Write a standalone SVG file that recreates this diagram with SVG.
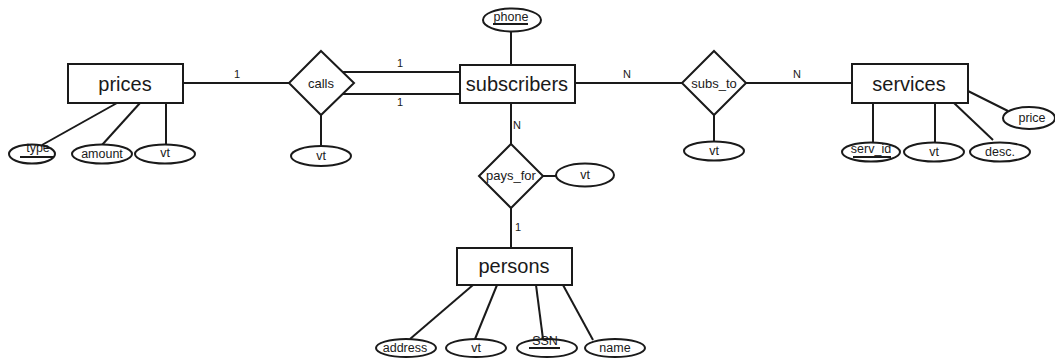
<svg xmlns="http://www.w3.org/2000/svg" width="1055" height="360" viewBox="0 0 1055 360">
<style>
.s{fill:#fff;stroke:#1a1a1a;stroke-width:2}
.l{stroke:#1a1a1a;stroke-width:2;fill:none}
.u{stroke:#1a1a1a;stroke-width:2}
.e{font-family:"Liberation Sans",Arial,sans-serif;font-size:20px;fill:#1a1a1a;text-anchor:middle}
.a{font-family:"Liberation Sans",Arial,sans-serif;font-size:12.5px;fill:#1a1a1a;text-anchor:middle}
.r{font-family:"Liberation Sans",Arial,sans-serif;font-size:13px;fill:#1a1a1a;text-anchor:middle}
.c{font-family:"Liberation Sans",Arial,sans-serif;font-size:11px;fill:#1a1a1a;text-anchor:middle}
</style>
<rect width="1055" height="360" fill="#fff"/>
<g id="connectors">
<line class="l" x1="183" y1="83" x2="289" y2="83"/>
<line class="l" x1="343" y1="72" x2="460" y2="72"/>
<line class="l" x1="343" y1="94" x2="460" y2="94"/>
<line class="l" x1="575" y1="83" x2="682" y2="83"/>
<line class="l" x1="746" y1="83" x2="852" y2="83"/>
<line class="l" x1="511" y1="103" x2="511" y2="144"/>
<line class="l" x1="511" y1="208" x2="511" y2="248"/>
<line class="l" x1="543" y1="176" x2="556" y2="176"/>
<line class="l" x1="321" y1="115" x2="321" y2="146"/>
<line class="l" x1="714" y1="115" x2="714" y2="142"/>
<line class="l" x1="511" y1="31" x2="511" y2="65"/>
<line class="l" x1="117" y1="103" x2="42" y2="145"/>
<line class="l" x1="140" y1="103" x2="102" y2="145"/>
<line class="l" x1="166" y1="103" x2="166" y2="145"/>
<line class="l" x1="873" y1="103" x2="873" y2="143"/>
<line class="l" x1="935" y1="103" x2="935" y2="142"/>
<line class="l" x1="954" y1="103" x2="993" y2="140"/>
<line class="l" x1="968" y1="91" x2="1008" y2="111"/>
<line class="l" x1="473" y1="285" x2="410" y2="339"/>
<line class="l" x1="497" y1="285" x2="475" y2="339"/>
<line class="l" x1="536" y1="285" x2="543" y2="339"/>
<line class="l" x1="563" y1="285" x2="593" y2="340"/>
<text class="c" x="237" y="78">1</text>
<text class="c" x="400" y="67">1</text>
<text class="c" x="400" y="106">1</text>
<text class="c" x="627" y="78">N</text>
<text class="c" x="797" y="78">N</text>
<text class="c" x="513" y="129" style="text-anchor:start">N</text>
<text class="c" x="515" y="231" style="text-anchor:start">1</text>
</g>
<g id="prices"><rect class="s" x="68" y="64" width="115" height="39"/><text class="e" x="125" y="91">prices</text></g>
<g id="subscribers"><rect class="s" x="460" y="65" width="115" height="38"/><text class="e" x="517" y="91">subscribers</text></g>
<g id="services"><rect class="s" x="852" y="64" width="116" height="39"/><text class="e" x="909" y="91">services</text></g>
<g id="persons"><rect class="s" x="457" y="248" width="115" height="37"/><text class="e" x="514" y="273">persons</text></g>
<g id="calls"><polygon class="s" points="321,51 354,83 321,115 289,83"/><text class="r" x="321" y="88">calls</text></g>
<g id="subs_to"><polygon class="s" points="714,51 746,83 714,115 682,83"/><text class="r" x="714" y="88">subs_to</text></g>
<g id="pays_for"><polygon class="s" points="511,144 543,176 511,208 479,176"/><text class="r" x="511" y="180">pays_for</text></g>
<g id="attr-type"><ellipse class="s" cx="32" cy="154" rx="23" ry="9.5"/><text class="a" x="38" y="152">type</text><line class="u" x1="20" y1="157" x2="54" y2="157"/></g>
<g id="attr-amount"><ellipse class="s" cx="102" cy="154" rx="30" ry="9.5"/><text class="a" x="102" y="158">amount</text></g>
<g id="attr-prices-vt"><ellipse class="s" cx="165" cy="154" rx="30" ry="9.5"/><text class="a" x="165" y="157">vt</text></g>
<g id="attr-calls-vt"><ellipse class="s" cx="321" cy="156" rx="30" ry="10"/><text class="a" x="321" y="160">vt</text></g>
<g id="attr-phone"><ellipse class="s" cx="512" cy="20" rx="29" ry="11.5"/><text class="a" x="511" y="21">phone</text><line class="u" x1="493" y1="24" x2="528" y2="24"/></g>
<g id="attr-paysfor-vt"><ellipse class="s" cx="585" cy="175" rx="29" ry="11.5"/><text class="a" x="585" y="179">vt</text></g>
<g id="attr-substo-vt"><ellipse class="s" cx="714" cy="151" rx="30" ry="9.5"/><text class="a" x="714" y="155">vt</text></g>
<g id="attr-serv_id"><ellipse class="s" cx="871" cy="152" rx="29" ry="9.5"/><text class="a" x="871" y="153">serv_id</text><line class="u" x1="853" y1="157" x2="891" y2="157"/></g>
<g id="attr-services-vt"><ellipse class="s" cx="934" cy="152" rx="30" ry="9.5"/><text class="a" x="934" y="156">vt</text></g>
<g id="attr-desc"><ellipse class="s" cx="1000" cy="152" rx="30" ry="9.5"/><text class="a" x="1000" y="156">desc.</text></g>
<g id="attr-price"><ellipse class="s" cx="1029" cy="118" rx="26" ry="11"/><text class="a" x="1032" y="122">price</text></g>
<g id="attr-address"><ellipse class="s" cx="406" cy="348" rx="30" ry="9"/><text class="a" x="405" y="352">address</text></g>
<g id="attr-persons-vt"><ellipse class="s" cx="476" cy="348" rx="30" ry="9"/><text class="a" x="476" y="352">vt</text></g>
<g id="attr-SSN"><ellipse class="s" cx="547" cy="348" rx="30" ry="9"/><text class="a" x="545" y="344.5">SSN</text><line class="u" x1="529" y1="348" x2="560" y2="348"/></g>
<g id="attr-name"><ellipse class="s" cx="615" cy="348" rx="30" ry="9"/><text class="a" x="615" y="352">name</text></g>
</svg>
